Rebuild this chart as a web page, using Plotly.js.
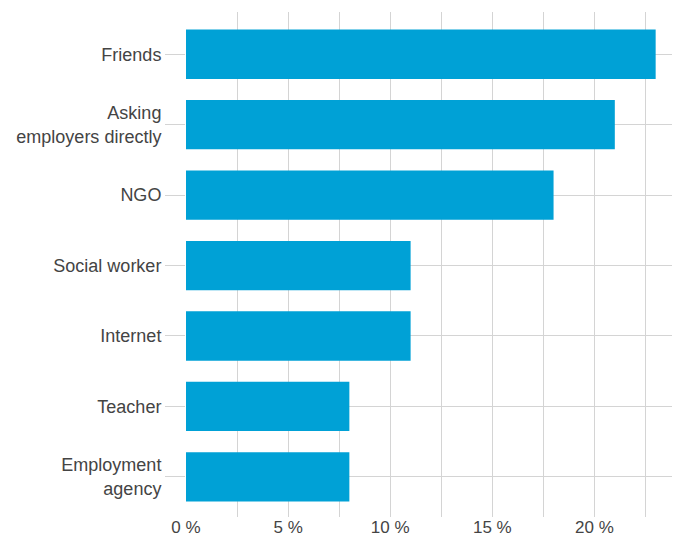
<!DOCTYPE html>
<html>
<head>
<meta charset="utf-8">
<script src="https://cdn.plot.ly/plotly-3.0.1.min.js"></script>
<style>html,body{margin:0;padding:0;background:#fff;}#chart{width:673px;height:539px;}</style>
</head>
<body>
<div id="chart"></div>
<script>
const categories = ["Friends", "Asking<br>employers directly", "NGO", "Social worker", "Internet", "Teacher", "Employment<br>agency"];
const values = [23, 21, 18, 11, 11, 8, 8];

const trace = {
  type: 'bar',
  orientation: 'h',
  y: categories,
  x: values,
  marker: {color: '#00a1d6'},
  hoverinfo: 'x+y'
};

const layout = {
  width: 673,
  height: 539,
  margin: {l: 186, r: 1, t: 12, b: 22},
  paper_bgcolor: '#fff',
  plot_bgcolor: '#fff',
  font: {family: 'Liberation Sans, Arial, sans-serif', size: 17, color: '#444'},
  bargap: 0.3,
  showlegend: false,
  xaxis: {
    range: [0, 23.8],
    tick0: 0,
    dtick: 5,
    ticksuffix: ' %',
    showgrid: true,
    gridcolor: '#d4d4d4',
    gridwidth: 1,
    zeroline: false,
    showline: false,
    ticks: '',
    ticklabelstandoff: -2,
    tickfont: {size: 17, color: '#444'},
    minor: {tick0: 0, dtick: 2.5, showgrid: true, gridcolor: '#d4d4d4', gridwidth: 1}
  },
  yaxis: {
    autorange: false,
    range: [6.57, -0.6],
    showgrid: true,
    gridcolor: '#d4d4d4',
    gridwidth: 1,
    zeroline: false,
    showline: false,
    ticks: 'outside',
    ticklen: 20,
    tickcolor: '#d4d4d4',
    tickwidth: 1,
    tickfont: {size: 18, color: '#444'}
  }
};

Plotly.newPlot('chart', [trace], layout, {displayModeBar: false, staticPlot: true});
</script>
</body>
</html>
